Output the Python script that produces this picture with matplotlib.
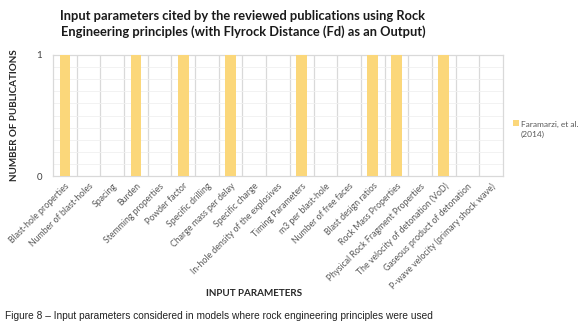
import numpy as np
import matplotlib
matplotlib.use("Agg")
from matplotlib import pyplot as plt
from matplotlib.patches import Rectangle

categories = ['Blast-hole properties', 'Number of blast-holes', 'Spacing', 'Burden',
              'Stemming properties', 'Powder factor', 'Specific drilling',
              'Charge mass per delay', 'Specific charge',
              'In-hole density of the explosives', 'Timing Parameters',
              'm3 per blast-hole', 'Number of free faces', 'Blast design ratios',
              'Rock Mass Properties', 'Physical Rock Fragment Properties',
              'The velocity of detonation (VoD)', 'Gaseous product of detonation',
              'P-wave velocity (primary shock wave)']
faramarzi = [1, 0, 0, 1, 0, 1, 0, 1, 0, 0, 1, 0, 0, 1, 1, 0, 1, 0, 0]
series_name = 'Faramarzi, et al.\n(2014)'

bar_color = '#fbd77a'
grid_color = '#d9d9d9'
txt = '#595959'

plt.rcParams['font.family'] = ['Lato', 'DejaVu Sans']

fig = plt.figure(figsize=(5.8, 3.31), dpi=100)
ax = fig.add_axes([53/580, 1-176/331, 450/580, 121/331])

x = np.arange(len(categories))
ax.bar(x, faramarzi, width=0.45, color=bar_color, zorder=3)

ax.set_xlim(-0.5, len(categories)-0.5)
ax.set_ylim(0, 1)
ax.set_yticks([0, 1])
ax.set_yticklabels(['0', '1'], fontsize=7, color='#404040')
ax.set_yticks(np.arange(0.1, 1.0, 0.1), minor=True)
ax.tick_params(axis='y', which='both', length=0, pad=8)
ax.grid(axis='y', which='minor', color='#f0f0f0', lw=0.6, zorder=0)

# category separators
for b in np.arange(0.5, len(categories)-1, 1):
    ax.axvline(b, color=grid_color, lw=0.9, zorder=1)

ax.set_xticks(x)
ax.set_xticklabels(categories, rotation=45, ha='right', rotation_mode='anchor',
                   fontsize=6.3, color=txt)
ax.tick_params(axis='x', length=0, pad=4)
for s in ax.spines.values():
    s.set_color(grid_color)
    s.set_linewidth(0.9)

fig.text(243/580, 1-24/331, 'Input parameters cited by the reviewed publications using Rock\n'
         'Engineering principles (with Flyrock Distance (Fd) as an Output)',
         ha='center', va='center', fontsize=9.3, fontweight='bold', color='#1a1a1a',
         linespacing=1.35)

fig.text(15/580, 1-115/331, 'NUMBER OF PUBLICATIONS', rotation=90, ha='center', va='center',
         fontsize=7.1, fontweight='bold', color='#262626')
fig.text(254/580, 1-294/331, 'INPUT PARAMETERS', ha='center', va='center',
         fontsize=7.1, fontweight='bold', color='#262626')

# legend
fig.patches.append(Rectangle((513/580, 1-126/331), 6/580, 6/331, transform=fig.transFigure,
                             facecolor=bar_color, edgecolor='none'))
fig.text(521/580, 1-121/331, series_name, ha='left', va='top', fontsize=6, color=txt,
         linespacing=1.5)

fig.text(5/580, 1-316/331, 'Figure 8 \u2013 Input parameters considered in models where rock '
         'engineering principles were used', ha='left', va='center', fontsize=7.3,
         color='#222222', family='Liberation Sans')

fig.savefig('out.png', dpi=100, facecolor='white')
